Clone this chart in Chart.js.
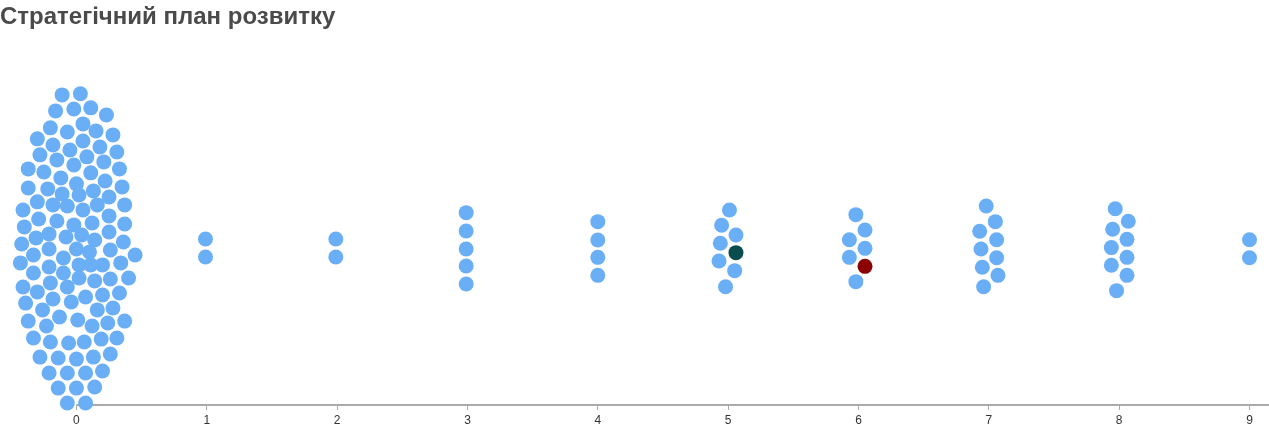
<!DOCTYPE html>
<html>
<head>
<meta charset="utf-8">
<script src="https://cdn.jsdelivr.net/npm/chart.js@4/dist/chart.umd.min.js"></script>
<style>
  html, body { margin: 0; padding: 0; background: #fff; }
  #wrap { width: 1269px; height: 434px; }
</style>
</head>
<body>
<div id="wrap"><canvas id="swarm"></canvas></div>
<script>
/* ── Data ── */
const titleText = "Стратегічний план розвитку";
const tickValues = [0, 1, 2, 3, 4, 5, 6, 7, 8, 9];

// swarm positions: x = value, y = offset from the swarm centre line (rows)
const swarmX = [
  -0.11, 0.03, -0.16, -0.02, 0.11, 0.23, -0.20, -0.07, 0.05, 0.15,
  0.28, -0.30, -0.18, -0.05, 0.05, 0.18, 0.31, -0.28, -0.15, -0.02,
  0.08, 0.21, 0.33, -0.37, -0.25, 0.11, -0.12, 0.00, 0.22, -0.37,
  -0.22, -0.11, 0.02, 0.13, 0.35, -0.30, -0.18, -0.07, 0.16, 0.25,
  0.37, -0.41, 0.05, -0.29, -0.15, 0.25, -0.40, -0.02, 0.12, 0.37,
  -0.21, -0.31, -0.08, 0.04, 0.25, -0.42, 0.14, 0.36, -0.21, 0.00,
  0.10, 0.26, -0.33, -0.10, 0.45, 0.02, 0.11, 0.20, 0.34, -0.43,
  -0.21, -0.33, -0.10, 0.02, 0.14, 0.26, 0.40, -0.41, -0.30, -0.20,
  -0.07, 0.07, 0.20, 0.33, -0.39, -0.26, -0.18, -0.04, 0.16, 0.28,
  -0.37, -0.23, -0.13, 0.01, 0.12, 0.24, 0.37, -0.33, -0.20, -0.06,
  0.06, 0.19, 0.31, -0.28, -0.14, 0.00, 0.13, 0.26, -0.21, -0.07,
  0.07, 0.20, -0.14, 0.00, 0.14, -0.07, 0.07,
  0.99, 0.99,
  1.99, 1.99,
  2.99, 2.99, 2.99, 2.99, 2.99,
  4.00, 4.00, 4.00, 4.00,
  5.01, 4.95, 5.06, 4.94, 4.93, 5.05, 4.98,
  5.98, 6.05, 5.93, 6.05, 5.93, 5.98,
  6.98, 7.05, 6.93, 7.06, 6.94, 7.06, 6.95, 7.07, 6.96,
  7.97, 8.07, 7.95, 8.06, 7.94, 8.06, 7.94, 8.06, 7.98,
  9.00, 9.00
];
const swarmY = [
  8.50, 8.56, 7.61, 7.72, 7.78, 7.39, 6.67, 6.44, 6.89, 6.50,
  6.28, 6.06, 5.72, 5.44, 5.94, 5.61, 5.33, 5.17, 4.89, 4.61,
  5.06, 4.78, 4.39, 4.39, 4.22, 4.17, 3.89, 3.56, 3.72, 3.33,
  3.28, 3.00, 2.94, 3.17, 3.39, 2.56, 2.39, 2.33, 2.39, 2.83,
  2.39, 2.11, 2.11, 1.61, 1.50, 1.78, 1.17, 1.28, 1.39, 1.33,
  0.78, 0.56, 0.61, 0.72, 0.89, 0.22, 0.44, 0.33, -0.06, -0.06,
  -0.22, -0.11, -0.39, -0.56, -0.39, -0.94, -0.94, -0.94, -0.83, -0.83,
  -1.06, -1.39, -1.39, -1.67, -1.83, -1.72, -1.67, -2.17, -2.44, -1.94,
  -2.17, -2.72, -2.61, -2.50, -3.06, -3.44, -2.83, -3.00, -3.44, -3.33,
  -4.06, -4.33, -3.83, -4.00, -4.33, -4.17, -4.06, -5.00, -5.22, -5.28,
  -5.22, -5.06, -5.00, -6.06, -6.11, -6.17, -6.06, -5.89, -6.94, -6.94,
  -6.94, -6.83, -7.78, -7.78, -7.72, -8.61, -8.61,
  0.50, -0.50,
  0.50, -0.50,
  1.96, 0.94, -0.06, -1.00, -2.00,
  1.46, 0.44, -0.52, -1.52,
  2.11, 1.26, 0.72, 0.26, -0.72, -1.26, -2.15,
  1.85, 1.00, 0.46, -0.02, -0.52, -1.87,
  2.33, 1.46, 0.93, 0.46, -0.06, -0.54, -1.07, -1.52, -2.15,
  2.18, 1.48, 1.04, 0.48, 0.02, -0.52, -0.96, -1.52, -2.37,
  0.46, -0.54
];

// highlighted entries
const markedX = [5.06, 6.05];
const markedY = [-0.26, -1.02];
const markedColors = ["#0b4d4f", "#8b0000"];

/* ── Axis line starting at the first tick ── */
const axisLine = {
  id: "axisLine",
  beforeDatasetsDraw(chart) {
    const { ctx, chartArea, scales } = chart;
    const x0 = scales.x.getPixelForValue(tickValues[0]);
    ctx.save();
    ctx.strokeStyle = "#aaaaaa";
    ctx.lineWidth = 2;
    ctx.beginPath();
    ctx.moveTo(x0, chartArea.bottom);
    ctx.lineTo(chartArea.right + 8, chartArea.bottom);
    ctx.stroke();
    ctx.restore();
  },
};

new Chart(document.getElementById("swarm"), {
  type: "scatter",
  data: {
    datasets: [
      {
        data: swarmX.map((x, i) => ({ x, y: swarmY[i] })),
        backgroundColor: "#6aaef6",
        borderWidth: 0,
        pointRadius: 7.5,
        pointHoverRadius: 7.5,
      },
      {
        data: markedX.map((x, i) => ({ x, y: markedY[i] })),
        backgroundColor: markedColors,
        borderWidth: 0,
        pointRadius: 7.5,
        pointHoverRadius: 7.5,
      },
    ],
  },
  options: {
    responsive: true,
    maintainAspectRatio: false,
    animation: false,
    layout: { padding: 0 },
    clip: false,
    scales: {
      x: {
        type: "linear",
        min: -0.529,
        max: 9.092,
        afterBuildTicks: (scale) => {
          scale.ticks = tickValues.map((v) => ({ value: v }));
        },
        afterFit: (scale) => {
          scale.height = 29;
        },
        grid: {
          display: true,
          drawOnChartArea: false,
          drawTicks: true,
          tickLength: 5,
          color: "#aaaaaa",
        },
        border: { display: false },
        ticks: {
          color: "#333333",
          padding: 3,
          maxRotation: 0,
          font: { family: "'Liberation Sans', Arial, sans-serif", size: 12 },
        },
      },
      y: {
        display: false,
        min: -8.72,
        max: 10.56,
      },
    },
    plugins: {
      legend: { display: false },
      tooltip: { enabled: false },
      title: {
        display: true,
        text: titleText,
        align: "start",
        color: "#4a4a4a",
        padding: { top: 3, bottom: 26 },
        font: { family: "'Liberation Sans', Arial, sans-serif", size: 24, weight: "bold" },
      },
    },
  },
  plugins: [axisLine],
});
</script>
</body>
</html>
